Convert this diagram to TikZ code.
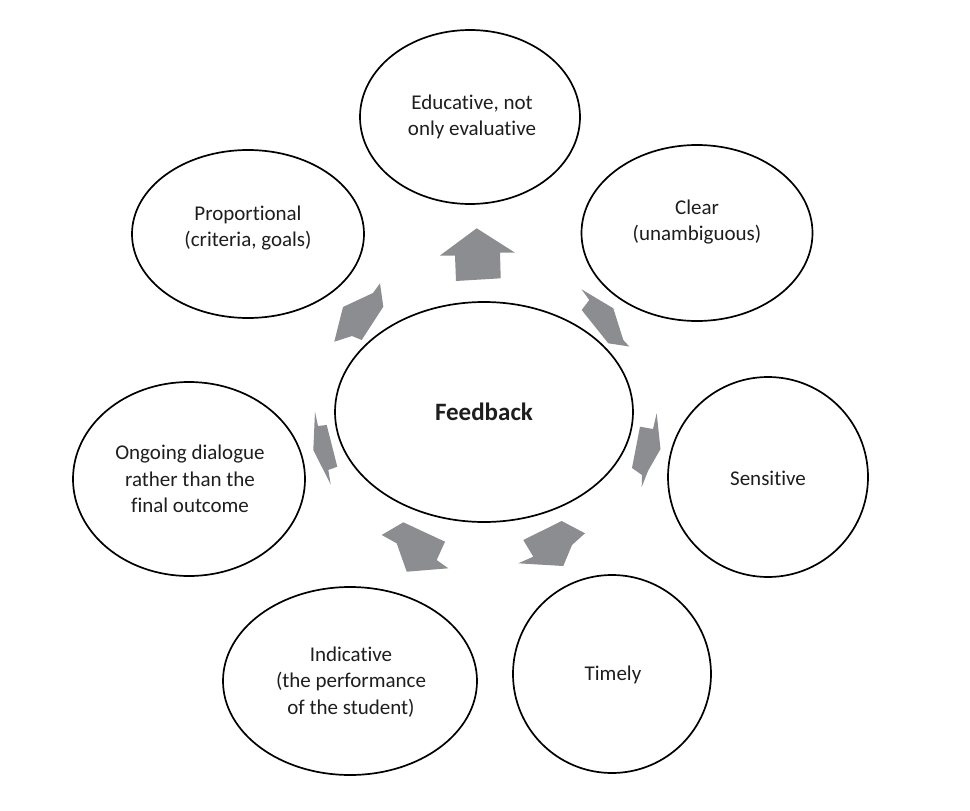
\documentclass[tikz,border=0pt]{standalone}
\usepackage{fontspec}
\setmainfont{Carlito}[Ligatures={NoCommon,NoRare,NoContextual}]
\usetikzlibrary{shapes.geometric}
\definecolor{arrowgray}{RGB}{140,141,145}
\definecolor{txtcol}{RGB}{30,30,30}
\tikzset{
  bubble/.style={draw=black, line width=1.7pt, ellipse, inner sep=0pt, outer sep=0pt},
  lbl/.style={align=center, inner sep=0pt, text=txtcol, font=\fontsize{21}{26.5}\selectfont},
  blockarrow/.style={fill=arrowgray, draw=none},
}
\begin{document}
\begin{tikzpicture}[x=1pt,y=-1pt]
\useasboundingbox (0,0) rectangle (970,811);
\fill[white] (0,0) rectangle (970,811);

% ellipses
\node[bubble, minimum width=220pt, minimum height=174pt] (edu) at (470,117) {};
\node[bubble, minimum width=231pt, minimum height=176pt] (clear) at (697,233) {};
\node[bubble, minimum width=232pt, minimum height=168pt] (prop) at (248,234) {};
\node[bubble, minimum width=232pt, minimum height=194pt] (ongo) at (189,479) {};
\node[bubble, minimum width=200pt, minimum height=200pt] (sens) at (768,477) {};
\node[bubble, minimum width=198pt, minimum height=198pt] (time) at (612,674) {};
\node[bubble, minimum width=254pt, minimum height=188pt] (indi) at (350,681) {};
\node[bubble, minimum width=298pt, minimum height=220pt] (feed) at (484,412) {};

% labels
\node[lbl] (eduT) at (472,117) {Educative, not\\only evaluative};
\node[lbl] (clearT) at (697,222) {Clear\\(unambiguous)};
\node[lbl] (propT) at (248,228) {Proportional\\(criteria, goals)};
\node[lbl] (ongoT) at (190,479) {Ongoing dialogue\\rather than the\\final outcome};
\node[lbl] (sensT) at (768,478) {Sensitive};
\node[lbl] (timeT) at (613,675) {Timely};
\node[lbl] (indiT) at (351,682) {Indicative\\(the performance\\of the student)};
\node[lbl, font=\fontsize{25}{30}\selectfont\bfseries] (feedT) at (484,412) {Feedback};

% block arrows
% top
\fill[blockarrow] (476.7,228.3) -- (515,252.7) -- (500,252.7) -- (500.7,278.3)
  -- (456,281) -- (455,255.5) -- (440,255.5) -- cycle;
% upper right
\fill[blockarrow] (581.5,289.3) -- (613.3,308.3) -- (623.3,340) -- (629.3,346.5)
  -- (608.3,343.3) -- (581.7,310) -- (589.3,300) -- cycle;
% upper left
\fill[blockarrow] (380,283.3) -- (383.3,306.7) -- (361.7,340) -- (352,336)
  -- (334.3,341.7) -- (343,307) -- (373,293) -- cycle;
% left
\fill[blockarrow] (315,411.7) -- (318,426) -- (326.7,425) -- (337.3,466.7)
  -- (328.3,470) -- (330.7,484.5) -- (313.3,450) -- cycle;
% right
\fill[blockarrow] (656.7,413.3) -- (660.5,449) -- (648,471) -- (641.7,487)
  -- (642,475) -- (632,468) -- (640,426.7) -- (653,429) -- cycle;
% bottom left
\fill[blockarrow] (381.7,535) -- (403.3,522.3) -- (445,541.7) -- (436.7,560)
  -- (448.3,568.3) -- (406.7,571.7) -- (396.7,543.3) -- cycle;
% bottom right
\fill[blockarrow] (523.3,540) -- (561.7,521) -- (585,533.3) -- (572,545)
  -- (563.3,566) -- (518.3,563.3) -- (533.3,556.7) -- cycle;
\end{tikzpicture}
\end{document}
